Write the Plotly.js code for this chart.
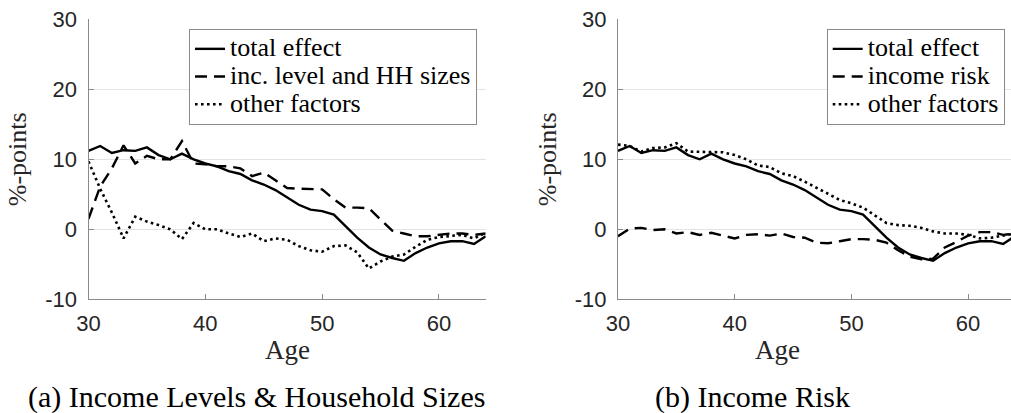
<!DOCTYPE html>
<html>
<head>
<meta charset="utf-8">
<script src="https://cdn.plot.ly/plotly-3.0.1.min.js"></script>
<style>html,body{margin:0;padding:0;background:#fff}#chart{width:1011px;height:413px}</style>
</head>
<body>
<div id="chart"></div>
<script>
// ---- data ----
const ages = [30,31,32,33,34,35,36,37,38,39,40,41,42,43,44,45,46,47,48,49,50,51,52,53,54,55,56,57,58,59,60,61,62,63,64];
const totalEffect = [11.2,11.9,10.9,11.3,11.2,11.7,10.6,10.0,10.8,10.0,9.4,9.0,8.3,7.9,7.0,6.4,5.6,4.6,3.5,2.8,2.6,2.1,0.5,-1.2,-2.6,-3.6,-4.1,-4.5,-3.4,-2.6,-2.0,-1.7,-1.7,-2.1,-1.0];
const incLevelHH = [1.5,6.1,8.7,12.0,9.4,10.5,10.0,10.0,12.6,9.4,9.3,9.0,9.0,8.7,7.6,8.1,7.0,5.9,5.8,5.7,5.7,4.3,3.1,3.1,3.0,1.4,-0.2,-0.6,-1.0,-1.0,-0.8,-0.6,-0.6,-0.8,-0.6];
const otherFactorsA = [9.7,5.8,2.4,-1.3,1.8,1.1,0.6,0.0,-1.4,0.9,0.0,0.0,-0.6,-1.1,-0.6,-1.7,-1.3,-1.5,-2.4,-3.0,-3.2,-2.4,-2.3,-3.3,-5.6,-4.6,-3.9,-3.6,-2.5,-1.5,-1.1,-0.9,-0.8,-1.3,-0.5];
const incomeRisk = [-1.0,0.1,0.2,-0.1,0.0,-0.6,-0.4,-0.8,-0.5,-0.9,-1.3,-0.8,-0.7,-0.9,-0.6,-1.1,-1.2,-1.9,-2.0,-1.7,-1.4,-1.4,-1.5,-1.9,-3.0,-3.9,-4.3,-4.2,-2.6,-1.8,-0.9,-0.4,-0.4,-0.8,-0.6];
const otherFactorsB = [12.1,11.9,11.1,11.6,11.7,12.3,11.1,11.1,11.1,11.0,10.6,10.0,9.1,8.9,8.0,7.6,6.8,5.9,5.0,4.2,3.7,3.1,2.0,0.9,0.6,0.5,0.2,-0.3,-0.6,-0.6,-0.8,-1.3,-1.2,-0.9,-0.6];
const xTicks = [30,40,50,60];
const yTicks = [-10,0,10,20,30];
const seriesNamesA = ['total effect','inc. level and HH sizes','other factors'];
const seriesNamesB = ['total effect','income risk','other factors'];
const captions = ['(a) Income Levels &amp; Household Sizes','(b) Income Risk'];
const xTitle = 'Age';
const yTitle = '%-points';

// ---- styles ----
const SERIF = 'Liberation Serif';
const SANS = 'Liberation Sans';
const solid = {color:'#000', width:2.4, dash:'solid'};
const dashed = {color:'#000', width:2.4, dash:'12px,7px'};
const dotted = {color:'#000', width:2.6, dash:'2.6px,3.4px'};
const legendLabel = s => '<span style="font-size:26px">' + s + '</span>';

function tr(y, name, line, xa, ya, lg){
  return {x: ages, y: y, name: legendLabel(name), type:'scatter', mode:'lines', line: line,
          xaxis: xa, yaxis: ya, legend: lg, hoverinfo:'skip'};
}
const data = [
  tr(totalEffect, seriesNamesA[0], solid, 'x', 'y', 'legend'),
  tr(incLevelHH, seriesNamesA[1], dashed, 'x', 'y', 'legend'),
  tr(otherFactorsA, seriesNamesA[2], dotted, 'x', 'y', 'legend'),
  tr(totalEffect, seriesNamesB[0], solid, 'x2', 'y2', 'legend2'),
  tr(incomeRisk, seriesNamesB[1], dashed, 'x2', 'y2', 'legend2'),
  tr(otherFactorsB, seriesNamesB[2], dotted, 'x2', 'y2', 'legend2')
];

const W = 1011, H = 413;
const yDom = [1 - 299.3/H, 1 - 19.3/H];
const axBase = {
  showline:true, linecolor:'#8a8a8a', linewidth:1,
  ticks:'inside', ticklen:5, tickcolor:'#8a8a8a', tickwidth:1,
  tickfont:{family:SANS, size:22, color:'#262626'},
  zeroline:false, automargin:false, fixedrange:true
};
function xa(dom, rng, anchor){
  return Object.assign({}, axBase, {domain:dom, range:rng, tickvals:xTicks, ticktext:xTicks.map(String),
    showgrid:false, anchor:anchor, ticklabelstandoff:4});
}
function ya(anchor){
  return Object.assign({}, axBase, {domain:yDom, range:[-10,30], tickvals:yTicks, ticktext:yTicks.map(String),
    showgrid:true, gridcolor:'#e3e3e3', gridwidth:1, anchor:anchor, ticklabelstandoff:6,
    title:{text:yTitle, font:{family:SERIF, size:26, color:'#262626'}}});
}
const legBase = {xanchor:'left', yanchor:'top', bgcolor:'#fff', bordercolor:'#8a8a8a', borderwidth:1,
  font:{family:SERIF, size:19, color:'#000'}, tracegroupgap:0};

const layout = {
  width:W, height:H, margin:{l:0,r:0,t:0,b:0}, paper_bgcolor:'#fff', plot_bgcolor:'#fff',
  showlegend:true,
  xaxis: xa([88.5/W, 485.7/W], [30,64], 'y'),
  yaxis: ya('x'),
  xaxis2: xa([618/W, 1], [30, 30 + (W-618)/11.67], 'y2'),
  yaxis2: ya('x2'),
  legend: Object.assign({}, legBase, {x:189/W, y:1-29/H}),
  legend2: Object.assign({}, legBase, {x:826.7/W, y:1-29/H}),
  annotations: [
    {text:xTitle, xref:'paper', yref:'paper', x:287/W, y:1-350/H, xanchor:'center', yanchor:'middle',
     showarrow:false, font:{family:SERIF, size:27, color:'#262626'}},
    {text:xTitle, xref:'paper', yref:'paper', x:777/W, y:1-350/H, xanchor:'center', yanchor:'middle',
     showarrow:false, font:{family:SERIF, size:27, color:'#262626'}},
    {text:captions[0], xref:'paper', yref:'paper', x:256/W, y:1-397/H, xanchor:'center', yanchor:'middle',
     showarrow:false, font:{family:SERIF, size:30, color:'#000'}},
    {text:captions[1], xref:'paper', yref:'paper', x:752/W, y:1-397/H, xanchor:'center', yanchor:'middle',
     showarrow:false, font:{family:SERIF, size:30, color:'#000'}}
  ]
};

Plotly.newPlot('chart', data, layout, {staticPlot:true, displayModeBar:false});
</script>
</body>
</html>
